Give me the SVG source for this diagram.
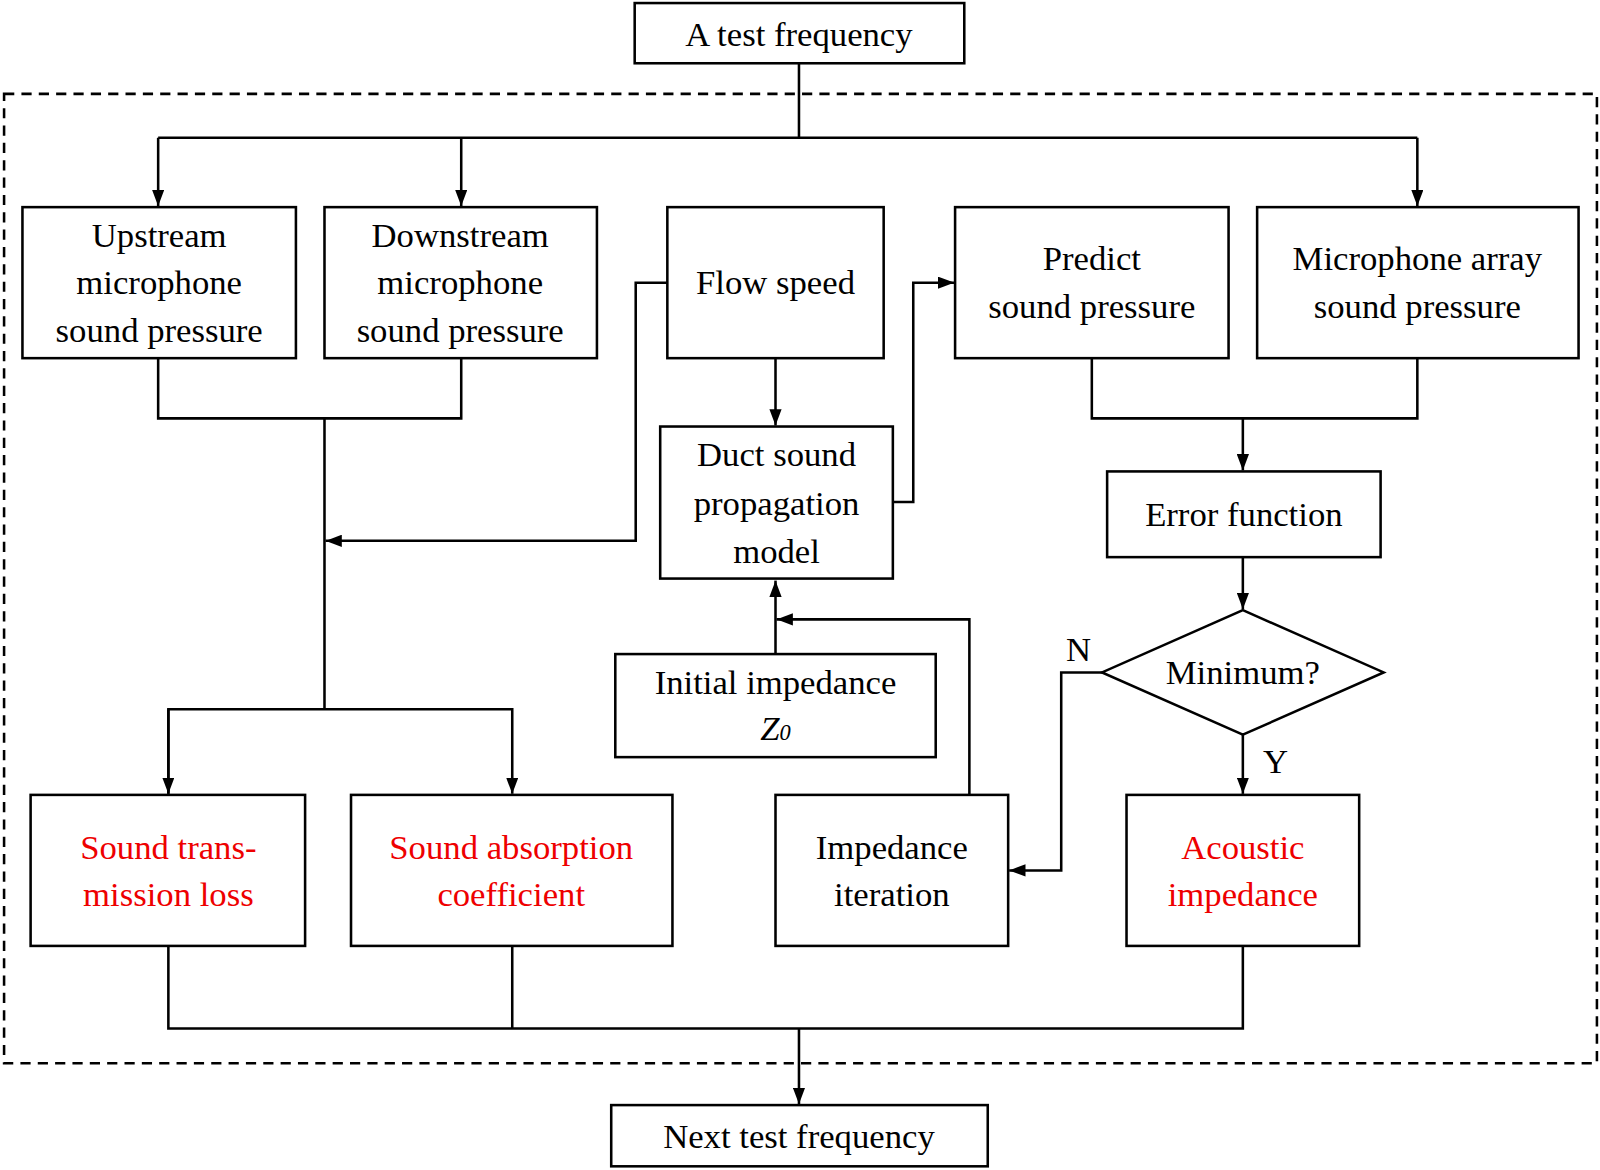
<svg xmlns="http://www.w3.org/2000/svg" width="1600" height="1170" viewBox="0 0 1600 1170">
<style>
.b{fill:#fff;stroke:#000;stroke-width:2.5}
.t{font-family:"Liberation Serif",serif;font-size:34px;text-anchor:middle;fill:#000}
.r{fill:#e00}
.c{fill:none;stroke:#000;stroke-width:2.5}
</style>
<defs><marker id="a" markerWidth="10" markerHeight="10" refX="9" refY="5" orient="auto" markerUnits="userSpaceOnUse" viewBox="0 0 10 10"><path d="M0,0L10,5L0,10z" transform="scale(1)"/></marker>
<marker id="m" viewBox="0 0 16 12" refX="16" refY="6" markerWidth="16" markerHeight="12" orient="auto" markerUnits="userSpaceOnUse"><path d="M0,0L16,6L0,12z"/></marker></defs>
<rect width="1600" height="1170" fill="#fff"/>
<g transform="scale(1.0204)">
<rect x="4" y="92" width="1561" height="950" fill="none" stroke="#000" stroke-width="2.5" stroke-dasharray="10,7"/>
<g id="connectors" class="c">
<path d="M783,62V135"/><path d="M155,135H1389"/>
<path d="M155,135V202" marker-end="url(#m)"/><path d="M452,135V202" marker-end="url(#m)"/><path d="M1389,135V202" marker-end="url(#m)"/>
<path d="M155,351V410H452V351"/><path d="M318,410V695"/>
<path d="M654,277H623V530H319" marker-end="url(#m)"/>
<path d="M760,351V417" marker-end="url(#m)"/>
<path d="M875,492H895V277H935" marker-end="url(#m)"/>
<path d="M760,641V569" marker-end="url(#m)"/>
<path d="M950,779V607H761" marker-end="url(#m)"/>
<path d="M1070,351V410H1389V351"/><path d="M1218,410V461" marker-end="url(#m)"/>
<path d="M1218,546V597" marker-end="url(#m)"/>
<path d="M1080,659H1040V853H989" marker-end="url(#m)"/>
<path d="M1218,720V778" marker-end="url(#m)"/>
<path d="M165,778V695H502V778" marker-end="url(#m)" marker-start="none"/>
<path d="M165,695V778" marker-end="url(#m)"/>
<path d="M165,927V1008H1218V927"/><path d="M502,927V1008"/>
<path d="M783,1008V1082" marker-end="url(#m)"/>
</g>
<g id="top"><rect class="b" x="622" y="3" width="323" height="59"/><text class="t" x="783" y="45">A test frequency</text></g>
<g id="up"><rect class="b" x="22" y="203" width="268" height="148"/><text class="t" x="156" y="242">Upstream</text><text class="t" x="156" y="288">microphone</text><text class="t" x="156" y="335">sound pressure</text></g>
<g id="down"><rect class="b" x="318" y="203" width="267" height="148"/><text class="t" x="451" y="242">Downstream</text><text class="t" x="451" y="288">microphone</text><text class="t" x="451" y="335">sound pressure</text></g>
<g id="flow"><rect class="b" x="654" y="203" width="212" height="148"/><text class="t" x="760" y="288">Flow speed</text></g>
<g id="predict"><rect class="b" x="936" y="203" width="268" height="148"/><text class="t" x="1070" y="265">Predict</text><text class="t" x="1070" y="312">sound pressure</text></g>
<g id="mic"><rect class="b" x="1232" y="203" width="315" height="148"/><text class="t" x="1389" y="265">Microphone array</text><text class="t" x="1389" y="312">sound pressure</text></g>
<g id="duct"><rect class="b" x="647" y="418" width="228" height="149" stroke-width="4"/><text class="t" x="761" y="457">Duct sound</text><text class="t" x="761" y="505">propagation</text><text class="t" x="761" y="552">model</text></g>
<g id="init"><rect class="b" x="603" y="641" width="314" height="101"/><text class="t" x="760" y="680">Initial impedance</text><text class="t" x="760" y="725" font-style="italic">Z<tspan font-size="22">0</tspan></text></g>
<g id="err"><rect class="b" x="1085" y="462" width="268" height="84"/><text class="t" x="1219" y="515">Error function</text></g>
<g id="min"><path class="b" d="M1218,598L1356,659L1218,720L1080,659Z"/><text class="t" x="1218" y="670">Minimum?</text></g>
<text class="t" x="1057" y="648">N</text><text class="t" x="1250" y="758">Y</text>
<g id="stl"><rect class="b" x="30" y="779" width="269" height="148"/><text class="t r" x="165" y="842">Sound trans-</text><text class="t r" x="165" y="888">mission loss</text></g>
<g id="sac"><rect class="b" x="344" y="779" width="315" height="148"/><text class="t r" x="501" y="842">Sound absorption</text><text class="t r" x="501" y="888">coefficient</text></g>
<g id="iter"><rect class="b" x="760" y="779" width="228" height="148"/><text class="t" x="874" y="842">Impedance</text><text class="t" x="874" y="888">iteration</text></g>
<g id="ac"><rect class="b" x="1104" y="779" width="228" height="148"/><text class="t r" x="1218" y="842">Acoustic</text><text class="t r" x="1218" y="888">impedance</text></g>
<g id="next"><rect class="b" x="599" y="1083" width="369" height="60"/><text class="t" x="783" y="1125">Next test frequency</text></g>
</g>
</svg>
